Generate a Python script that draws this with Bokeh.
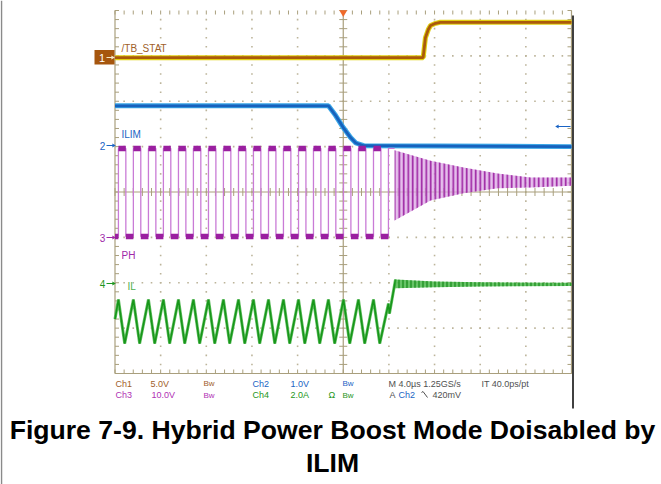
import numpy as np
from bokeh.plotting import figure
from bokeh.models import Label, Range1d
from bokeh.embed import file_html
from bokeh.resources import INLINE

# ---------------- data: time in µs (4 µs/div, trigger at 0), vertical in divisions ----
# Ch1 /TB_STAT (5 V/div)
ch1_t = [-20.0, 7.0, 7.2, 7.45, 7.65, 8.0, 8.5, 20.0]
ch1_y = [2.96, 2.96, 3.40, 3.58, 3.67, 3.71, 3.74, 3.74]

# Ch2 ILIM (1 V/div)
ch2_t = [-20.0, -1.3, -0.68, 0.0, 0.64, 1.1, 1.8, 20.0]
ch2_y = [1.90, 1.90, 1.69, 1.42, 1.20, 1.08, 1.02, 1.00]

# Ch4 IL (2 A/div): switching peaks / valleys
il_peak_t = [-19.70, -18.39, -17.07, -15.76, -14.44, -13.13, -11.81, -10.50, -9.18,
             -7.87, -6.55, -5.24, -3.92, -2.61, -1.30, 0.02, 1.33, 2.65]
il_valley_t = [-19.15, -17.84, -16.52, -15.21, -13.89, -12.58, -11.26, -9.95, -8.63,
               -7.32, -6.00, -4.69, -3.37, -2.06, -0.75, 0.57, 1.88, 3.20]
il_peak_y = -2.37
il_valley_y = -3.34
il_start = (-20.0, -2.80)
il_tail_t = [3.96, 4.05, 4.58]
il_tail_y = [-2.46, -2.68, -1.93]
il_band_t = [4.58, 8.0, 12.0, 20.0]
il_band_top = [-1.93, -1.97, -1.99, -2.00]
il_band_bot = [-2.12, -2.10, -2.08, -2.07]

# Ch3 PH (10 V/div): switching edges
ph_rise_t = [-19.70, -18.39, -17.07, -15.76, -14.44, -13.13, -11.81, -10.50, -9.18,
             -7.87, -6.55, -5.24, -3.92, -2.61, -1.30, 0.02, 1.33, 2.65]
ph_fall_t = [-19.05, -17.74, -16.42, -15.11, -13.79, -12.48, -11.16, -9.85, -8.53,
             -7.22, -5.90, -4.59, -3.27, -1.96, -0.65, 0.67, 1.98, 3.30]
ph_high = 0.96
ph_low = -0.98
ph_last_rise = 3.96
ph_ring_t = [4.50, 7.65, 10.54, 13.52, 16.41, 20.0]
ph_ring_top = [0.92, 0.69, 0.54, 0.41, 0.32, 0.32]
ph_ring_bot = [-0.63, -0.19, -0.03, 0.08, 0.10, 0.14]

# ---------------- layout helpers (image pixel -> data) ----------------
W, H = 661, 484
X0_IMG, X1_IMG = 114.5, 571.0
Y0_IMG, Y1_IMG = 10.0, 373.0
PX_T = (X1_IMG - X0_IMG) / 40.0
PX_D = (Y1_IMG - Y0_IMG) / 8.0


def ix(x):
    return -20.0 + (x - X0_IMG) / PX_T


def iy(y):
    return 4.0 - (y - Y0_IMG) / PX_D


p = figure(width=W, height=H, x_range=Range1d(ix(0), ix(W)),
           y_range=Range1d(iy(H), iy(0)), output_backend="svg",
           toolbar_location=None, min_border=0,
           x_axis_location=None, y_axis_location=None)
p.outline_line_color = None
p.background_fill_color = "white"
p.border_fill_color = "white"
p.grid.visible = False

GRAT = "#a99f7d"
DOT = "#bcb49a"

# page border on the left
p.segment(x0=[ix(1)], x1=[ix(1)], y0=[iy(0)], y1=[iy(H)], line_color="#8a8a8a", line_width=1.5)

# grid dots
dx, dy = [], []
for tm in range(-16, 17, 4):
    if tm == 0:
        continue
    for j in range(1, 40):
        dx.append(tm)
        dy.append(-4 + 0.2 * j)
for ym in range(-3, 4):
    if ym == 0:
        continue
    for j in range(1, 50):
        dx.append(-20 + 0.8 * j)
        dy.append(ym)
p.scatter(dx, dy, marker="square", size=1.6, color=DOT, line_color=None)

# frame lines
p.segment(x0=[-20, 20, -20, -20, 0], y0=[-4, -4, -4, 0, -4],
          x1=[-20, 20, 20, 20, 0], y1=[4, 4, -4, 0, 4], line_color=GRAT, line_width=1.2)
tl_t = 4.0 / PX_T
tl_d = 4.0 / PX_D
ys = [-4 + 0.2 * j for j in range(41)]
ts = [-20 + 0.8 * j for j in range(51)]
sx0, sy0, sx1, sy1 = [], [], [], []
for y in ys:
    sx0 += [-20, 20 - tl_t, -tl_t]
    sx1 += [-20 + tl_t, 20, tl_t]
    sy0 += [y, y, y]
    sy1 += [y, y, y]
for t in ts:
    sx0 += [t, t, t]
    sx1 += [t, t, t]
    sy0 += [4, -4, -tl_d]
    sy1 += [4 - tl_d, -4 + tl_d, tl_d]
p.segment(x0=sx0, y0=sy0, x1=sx1, y1=sy1, line_color=GRAT, line_width=1)

# ---------------- traces ----------------
# Ch1
p.line(ch1_t, ch1_y, line_color="#e0cf10", line_width=5)
p.line(ch1_t, ch1_y, line_color="#aa5a0c", line_width=2.8)

# Ch2
p.line(ch2_t, ch2_y, line_color="#3aa6e6", line_width=5)
p.line(ch2_t, ch2_y, line_color="#1762bd", line_width=2.8)

# Ch3 PH
px, py = [-20.0], [ph_low]
hx0, hx1, lx0, lx1 = [], [], [], []
prev_fall = -20.0
for r, f in zip(ph_rise_t, ph_fall_t):
    px += [r, r, f, f]
    py += [ph_low, ph_high, ph_high, ph_low]
    lx0.append(prev_fall)
    lx1.append(r)
    hx0.append(r)
    hx1.append(f)
    prev_fall = f
px += [ph_last_rise, ph_last_rise, ph_ring_t[0]]
py += [ph_low, ph_high, ph_high]
lx0.append(prev_fall)
lx1.append(ph_last_rise)
p.line(px, py, line_color="#c97bd6", line_width=1.3)
p.segment(x0=hx0, x1=hx1, y0=[ph_high] * len(hx0), y1=[ph_high] * len(hx0),
          line_color="#9a1fa0", line_width=5.5)
p.segment(x0=lx0, x1=lx1, y0=[ph_low] * len(lx0), y1=[ph_low] * len(lx0),
          line_color="#9a1fa0", line_width=5.5)
p.varea(x=ph_ring_t, y1=ph_ring_bot, y2=ph_ring_top, fill_color="#dca8e6", fill_alpha=0.75,
        hatch_pattern="|", hatch_color="#9a1fa0", hatch_scale=4.5, hatch_weight=1.6)

# Ch4 IL
ilx = [il_start[0]]
ily = [il_start[1]]
for pk, vl in zip(il_peak_t, il_valley_t):
    ilx += [pk, vl]
    ily += [il_peak_y, il_valley_y]
ilx += il_tail_t
ily += il_tail_y
p.line(ilx, ily, line_color="#62c062", line_width=3)
p.line(ilx, ily, line_color="#17961a", line_width=1.6)
p.varea(x=il_band_t, y1=il_band_bot, y2=il_band_top, fill_color="#4cb84c", fill_alpha=0.85,
        hatch_pattern="|", hatch_color="#138a16", hatch_scale=4, hatch_weight=1.2)

# ---------------- markers ----------------
p.quad(left=[ix(94)], right=[ix(114)], top=[iy(49.5)], bottom=[iy(64)],
       fill_color="#a6560e", line_color=None)


def arrow(x_tail, x_tip, y, color, head=5):
    p.segment(x0=[ix(x_tail)], x1=[ix(x_tip - 2)], y0=[iy(y)], y1=[iy(y)],
              line_color=color, line_width=1.2)
    ang = -np.pi / 2 if x_tip > x_tail else np.pi / 2
    p.scatter([ix(x_tip - 2)], [iy(y)], marker="triangle", size=head, angle=ang,
              color=color, line_color=None)


def label(txt, x, y, color, size="9px", align="left", style="normal", font="Liberation Sans"):
    p.add_layout(Label(x=ix(x), y=iy(y), text=txt, text_color=color, text_font_size=size,
                       text_align=align, text_baseline="middle", text_font_style=style,
                       text_font=font))


label("1", 101.5, 57, "white", size="11px", align="center")
arrow(106, 114, 57, "#f6e9c8", head=4)
label("2", 102, 145, "#1a64c4", size="10px", align="center")
arrow(106, 115, 145, "#1a64c4", head=4)
label("3", 102, 237, "#a028a8", size="10px", align="center")
arrow(106, 115, 237, "#a028a8", head=4)
label("4", 102, 283, "#1e9620", size="10px", align="center")
arrow(106, 115, 283, "#1e9620", head=4)
arrow(570, 559, 126, "#1a64c4", head=4)
p.scatter([0], [iy(12)], marker="inverted_triangle", size=8, color="#f06a2a", line_color=None)

label("/TB_STAT", 121, 48, "#a0602a", size="10px")
label("ILIM", 121, 134, "#1a64c4", size="10px")
label("PH", 121, 255, "#a028a8", size="10px")
label("IL", 127, 286, "#4cb04c", size="10px")

# ---------------- status rows ----------------
BR, BL, PU, GR, GY = "#a0602a", "#1a64c4", "#b030b4", "#1e9620", "#505050"
row1 = [("Ch1", 115, BR), ("5.0V", 150, BR), ("Ch2", 252, BL), ("1.0V", 290, BL),
        ("M 4.0µs 1.25GS/s", 388, GY), ("IT 40.0ps/pt", 481, GY)]
row2 = [("Ch3", 115, PU), ("10.0V", 151, PU), ("Ch4", 252, GR), ("2.0A", 290, GR),
        ("Ω", 328, GR), ("A", 389, GY), ("Ch2", 398, BL), ("420mV", 432, GY)]
for txt, x, c in row1:
    label(txt, x, 383, c)
for txt, x, c in row2:
    label(txt, x, 394.5, c)
for x, y, c in [(203, 383, BR), (342, 383, BL), (203, 394.5, PU), (342, 394.5, GR)]:
    label("Bw", x, y, c, size="8px")
# falling-edge slope symbol
p.line([ix(421), ix(422.5), ix(427)], [iy(392), iy(391), iy(397)], line_color=GY, line_width=1)

# scope border on right
p.segment(x0=[ix(572.5)], x1=[ix(572.5)], y0=[iy(15)], y1=[iy(408)], line_color="black",
          line_width=1.5)

# ---------------- caption ----------------
label("Figure 7-9. Hybrid Power Boost Mode Doisabled by", 332, 429, "black", size="26.6px",
      align="center", style="bold")
label("ILIM", 332, 462, "black", size="26.6px", align="center", style="bold")

open("out.html", "w").write(file_html(p, INLINE))
